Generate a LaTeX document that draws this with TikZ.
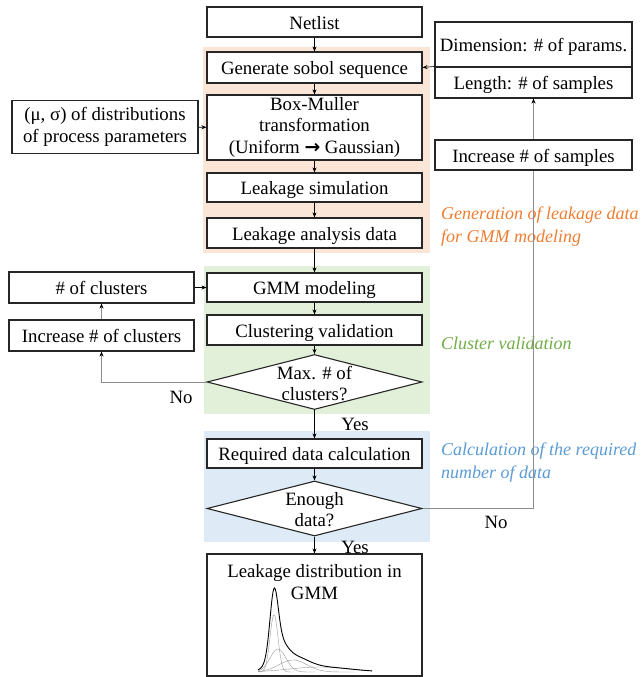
\documentclass[tikz,border=0pt]{standalone}
\usepackage{fontspec}
\setmainfont{Liberation Serif}
\newfontfamily\arrowfont{DejaVu Sans}
\usetikzlibrary{shapes.geometric,arrows.meta}

\definecolor{genbg}{HTML}{FBE5D6}
\definecolor{clubg}{HTML}{E2F0D9}
\definecolor{calbg}{HTML}{DEEBF7}
\definecolor{gentext}{HTML}{ED7D31}
\definecolor{clutext}{HTML}{70AD47}
\definecolor{caltext}{HTML}{5B9BD5}

\tikzset{
  every node/.style={font=\fontsize{18.8pt}{21.5pt}\selectfont},
  procbox/.style={draw=black!85, line width=1.1pt, fill=white, inner sep=0pt,
    align=center, minimum width=215pt, minimum height=30pt,
    execute at begin node={\rule[-4.5pt]{0pt}{23.5pt}}},
  sidebox/.style={procbox, minimum width=186pt},
  decision/.style={diamond, draw=black!85, line width=1.1pt, fill=white,
    inner sep=0pt, minimum width=215pt, minimum height=55pt},
  flow/.style={line width=0.6pt, -{Stealth[length=5pt,width=4pt]}},
  loopline/.style={draw=black!45, line width=0.8pt},
  looparrow/.style={loopline, -{Stealth[length=5pt,width=4pt,color=black]}},
  phase/.style={anchor=west, align=left, inner sep=0pt, font=\fontsize{18pt}{23pt}\selectfont\itshape},
  gmmpart/.style={black!40, line width=0.4pt},
}

\begin{document}
\begin{tikzpicture}[x=1pt, y=-1pt]
  \useasboundingbox (0,0) rectangle (644,677);
  % phase backgrounds
  \fill[genbg] (203,47) rectangle (430,253);
  \fill[clubg] (204,266) rectangle (430,414);
  \fill[calbg] (204,431) rectangle (430,542);
  \node[phase, text=gentext] (genlabel) at (441,227) {Generation of leakage data\\for GMM modeling};
  \node[phase, text=clutext] (clulabel) at (441,343) {Cluster validation};
  \node[phase, text=caltext] (callabel) at (441,463) {Calculation of the required\\number of data};
  % main flow
  \node[procbox] (netlist) at (314.5,22) {Netlist};
  \node[procbox, minimum height=31pt] (sobol) at (314.5,67.5) {Generate sobol sequence};
  \node[procbox, minimum height=65pt] (boxmuller) at (314.5,127.5)
    {Box-Muller\\transformation\\(Uniform {\arrowfont\bfseries →} Gaussian)};
  \node[procbox, minimum height=29pt] (leaksim) at (314.5,187.5) {Leakage simulation};
  \node[procbox] (leakdata) at (314.5,233) {Leakage analysis data};
  \node[procbox, minimum height=29pt] (gmm) at (314.5,287.5) {GMM modeling};
  \node[procbox] (clusval) at (314.5,330) {Clustering validation};
  \node[decision, label={[align=center, yshift=-1.5pt]center:Max. \# of\\clusters?}] (maxq) at (314.5,382) {};
  \node[procbox, minimum height=29pt] (reqdata) at (314.5,453.5) {Required data calculation};
  \node[decision, label={[align=center, yshift=-1pt]center:Enough\\data?}] (enoughq) at (314.5,508.5) {};
  \node[procbox, minimum height=122pt,
    label={[align=center, anchor=north, yshift=-7.5pt]north:Leakage distribution in\\GMM}] (result) at (314.5,615) {};
  % side boxes
  \node[sidebox, minimum height=53pt] (musigma) at (105,127) {(μ, σ) of distributions\\of process parameters};
  \node[procbox, minimum width=197pt, minimum height=45pt] (dimbox) at (533.5,44.5) {Dimension: \# of params.};
  \node[procbox, minimum width=197pt, minimum height=31pt] (lenbox) at (533.5,82.5) {Length: \# of samples};
  \node[procbox, minimum width=197pt] (incsamp) at (533.5,155) {Increase \# of samples};
  \node[sidebox, minimum width=185pt, minimum height=31pt] (nclust) at (101.5,287.5) {\# of clusters};
  \node[sidebox, minimum width=185pt, minimum height=31pt] (incclust) at (101.5,335.5) {Increase \# of clusters};
  % connectors
  \foreach \a/\b in {netlist/sobol, sobol/boxmuller, boxmuller/leaksim, leaksim/leakdata,
      leakdata/gmm, gmm/clusval, clusval/maxq, maxq/reqdata, reqdata/enoughq, enoughq/result}
    \draw[flow] (\a) -- (\b);
  \draw[flow] (lenbox.north west) -- (sobol.east);
  \draw[flow] (musigma) -- (boxmuller);
  \draw[flow] (nclust) -- (gmm);
  \draw[looparrow] (incclust) -- (nclust);
  \draw[looparrow] (maxq.west) -| (incclust.south);
  \draw[loopline] (enoughq.east) -| (incsamp.south);
  \draw[looparrow] (incsamp) -- (lenbox);
  \node (no1) at (181,397) {No};
  \node (yes1) at (355,424) {Yes};
  \node (no2) at (496,522) {No};
  \node (yes2) at (355,547) {Yes};
  % mixture curve
  \draw[gmmpart] plot[domain=258:292, samples=60] (\x,{672-57*exp(-((\x-274)/4)^2/2)});
  \draw[gmmpart] plot[domain=258:314, samples=60] (\x,{672-23*exp(-((\x-278)/8)^2/2)});
  \draw[gmmpart] plot[domain=258:355, samples=60] (\x,{672-12*exp(-((\x-293)/14)^2/2)});
  \draw[gmmpart] plot[domain=258:372, samples=60] (\x,{672-5*exp(-((\x-320)/30)^2/2)});
  \draw[line width=0.9pt] plot[domain=258:372, samples=160] (\x,{672-57*exp(-((\x-274)/4)^2/2)
    -23*exp(-((\x-278)/8)^2/2)-12*exp(-((\x-293)/14)^2/2)-5*exp(-((\x-320)/30)^2/2)});
\end{tikzpicture}
\end{document}
